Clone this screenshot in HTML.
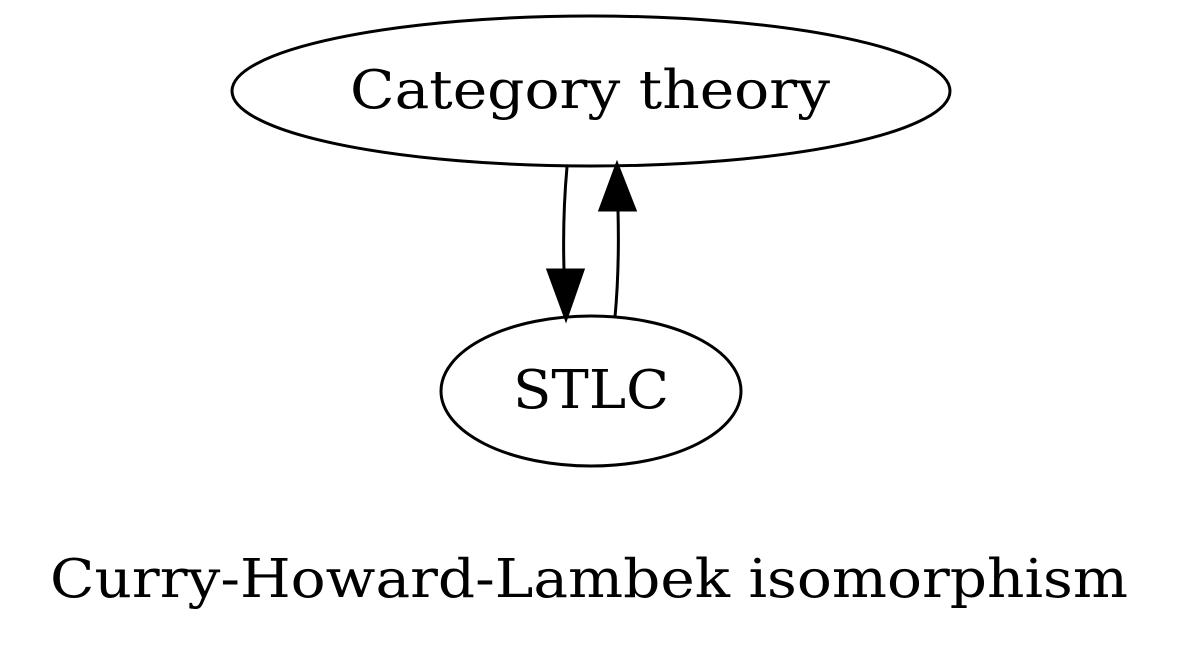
<!DOCTYPE html>
<html><head><meta charset="utf-8"><style>html,body{margin:0;padding:0;background:#fff}svg{display:block}</style></head>
<body>
<svg width="1183" height="646" viewBox="0 0 1183 646" xmlns="http://www.w3.org/2000/svg">
<rect width="1183" height="646" fill="#fff"/>
<g fill="none" stroke="#000" stroke-width="3">
<ellipse cx="591" cy="91" rx="359" ry="75"/>
<ellipse cx="591" cy="391" rx="150" ry="75"/>
<path d="M567,167 C564,200 563,235 564,270"/>
<path d="M615,317 C618,285 619,250 618,210"/>
</g>
<polygon points="548,270 583,270 566,319" fill="#000" stroke="#000" stroke-width="3"/>
<polygon points="600,210 635,210 617,164" fill="#000" stroke="#000" stroke-width="3"/>
<g font-family="'DejaVu Serif', serif" font-size="53" text-anchor="middle" fill="#000">
<text x="590" y="108" textLength="480" lengthAdjust="spacingAndGlyphs">Category theory</text>
<text x="591" y="408" textLength="156" lengthAdjust="spacingAndGlyphs">STLC</text>
<text x="589" y="597" textLength="1078" lengthAdjust="spacingAndGlyphs">Curry-Howard-Lambek isomorphism</text>
</g>
</svg>
</body></html>
